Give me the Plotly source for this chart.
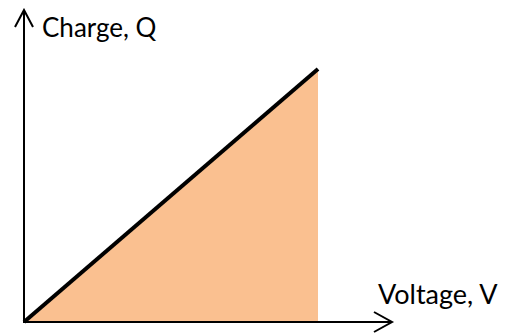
import plotly.graph_objects as go

# Data
voltage = [0, 10]
charge = [0, 10]
x_label = "Voltage, V"
y_label = "Charge, Q"

W, H = 510, 335
OFF = 8  # page body margin of the browser
# axis scale chosen so the origin and end point land where the reference has them
X_RANGE = [-(24 - OFF) / 29.4, (W - 24 + OFF) / 29.4]
Y_RANGE = [-(H - 322 + OFF) / 25.3, (322 - OFF) / 25.3]

def px(x):
    return (x - OFF) / W

def py(y):
    return 1 - (y - OFF) / H

fig = go.Figure()
fig.add_trace(go.Scatter(x=voltage, y=charge, mode="lines", fill="tozeroy",
                         fillcolor="#FAC090", line=dict(color="rgba(0,0,0,0)", width=0),
                         hoverinfo="skip", showlegend=False))
fig.add_trace(go.Scatter(x=voltage, y=charge, mode="lines",
                         line=dict(color="black", width=4), showlegend=False))

shapes = []
ax_line = dict(color="black", width=2)
# y axis
shapes.append(dict(type="line", xref="paper", yref="paper", x0=px(24), y0=py(323), x1=px(24), y1=py(10), line=ax_line))
shapes.append(dict(type="path", xref="paper", yref="paper",
                   path=f"M {px(15)},{py(27)} L {px(24)},{py(10)} L {px(33)},{py(27)}", line=ax_line))
# x axis
shapes.append(dict(type="line", xref="paper", yref="paper", x0=px(23), y0=py(322), x1=px(392), y1=py(322), line=ax_line))
shapes.append(dict(type="path", xref="paper", yref="paper",
                   path=f"M {px(374)},{py(312)} L {px(392)},{py(322)} L {px(374)},{py(332)}", line=ax_line))

font = dict(family="Lato, Carlito, Calibri, sans-serif", size=26, color="black")
font2 = dict(family="Lato, Carlito, Calibri, sans-serif", size=27, color="black")
annotations = [
    dict(text=y_label, xref="paper", yref="paper", x=px(40), y=py(27), xanchor="left", yanchor="middle",
         showarrow=False, font=font),
    dict(text=x_label, xref="paper", yref="paper", x=px(376), y=py(293), xanchor="left", yanchor="middle",
         showarrow=False, font=font2),
]

fig.update_layout(width=W, height=H, margin=dict(l=0, r=0, t=0, b=0),
                  paper_bgcolor="white", plot_bgcolor="white",
                  xaxis=dict(range=X_RANGE, visible=False, fixedrange=True),
                  yaxis=dict(range=Y_RANGE, visible=False, fixedrange=True),
                  shapes=shapes, annotations=annotations)
fig.write_html("out.html")
